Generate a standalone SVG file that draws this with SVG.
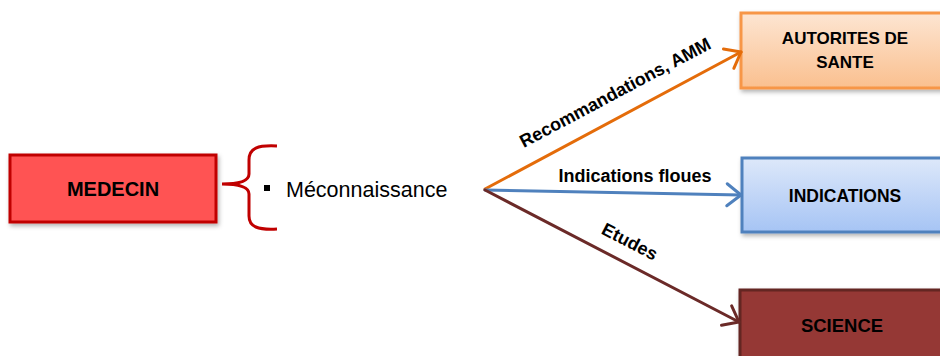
<svg xmlns="http://www.w3.org/2000/svg" width="940" height="356" viewBox="0 0 940 356">
  <defs>
    <style>
      .node-text { font-family: "Liberation Sans", Arial, sans-serif; font-weight: bold; fill: #000; text-anchor: middle; }
      .edge-text { font-family: "Liberation Sans", Arial, sans-serif; font-weight: bold; font-size: 18px; fill: #000; text-anchor: middle; }
      .plain-text { font-family: "Liberation Sans", Arial, sans-serif; font-size: 21.5px; fill: #000; }
      .edge { fill: none; stroke-width: 3; stroke-linecap: round; }
    </style>
    <linearGradient id="gradOrange" x1="0" y1="0" x2="0" y2="1">
      <stop offset="0" stop-color="#FDE5D2"/>
      <stop offset="1" stop-color="#FAC08F"/>
    </linearGradient>
    <linearGradient id="gradBlue" x1="0" y1="0" x2="0" y2="1">
      <stop offset="0" stop-color="#DDE8FA"/>
      <stop offset="1" stop-color="#A6C4F4"/>
    </linearGradient>
    <filter id="shadow" x="-10%" y="-10%" width="130%" height="140%">
      <feDropShadow dx="1.5" dy="2.5" stdDeviation="2" flood-color="#000" flood-opacity="0.3"/>
    </filter>
    <marker id="arrowOrange" markerUnits="userSpaceOnUse" orient="auto" refX="0" refY="0" markerWidth="30" markerHeight="30" viewBox="-20 -15 25 30" overflow="visible">
      <path d="M -14 -11 L 0 0 L -14 11" fill="none" stroke="#E46C0A" stroke-width="3" stroke-linecap="round" stroke-linejoin="round"/>
    </marker>
    <marker id="arrowBlue" markerUnits="userSpaceOnUse" orient="auto" refX="0" refY="0" markerWidth="30" markerHeight="30" viewBox="-20 -15 25 30" overflow="visible">
      <path d="M -14 -11 L 0 0 L -14 11" fill="none" stroke="#4F81BD" stroke-width="3" stroke-linecap="round" stroke-linejoin="round"/>
    </marker>
    <marker id="arrowBrown" markerUnits="userSpaceOnUse" orient="auto" refX="0" refY="0" markerWidth="30" markerHeight="30" viewBox="-20 -15 25 30" overflow="visible">
      <path d="M -14 -11 L 0 0 L -14 11" fill="none" stroke="#6B2A28" stroke-width="3" stroke-linecap="round" stroke-linejoin="round"/>
    </marker>
  </defs>

  <rect width="940" height="356" fill="#FFFFFF"/>

  <!-- left node -->
  <g id="medecin">
    <rect x="10" y="155" width="206" height="67" fill="#FF5252" stroke="#C00000" stroke-width="3" filter="url(#shadow)"/>
    <text class="node-text" x="113" y="196" font-size="20">MEDECIN</text>
  </g>

  <!-- brace with bullet item -->
  <g id="meconnaissance">
    <path d="M 277 146 C 258 145 249 148 249 160 L 249 174 C 249 181 240 184 222 184 C 240 184 249 187 249 194 L 249 216 C 249 227 258 230 277 229" fill="none" stroke="#C00000" stroke-width="3"/>
    <rect x="264" y="185" width="6" height="6" fill="#000"/>
    <text class="plain-text" x="286" y="197">Méconnaissance</text>
  </g>

  <!-- right nodes -->
  <g id="autorites">
    <rect x="741" y="13" width="210" height="75" fill="url(#gradOrange)" stroke="#F79646" stroke-width="3" filter="url(#shadow)"/>
    <text class="node-text" x="845" y="44" font-size="17">AUTORITES DE</text>
    <text class="node-text" x="845" y="68" font-size="17">SANTE</text>
  </g>

  <g id="indications">
    <rect x="742" y="158" width="210" height="74" fill="url(#gradBlue)" stroke="#4F81BD" stroke-width="3" filter="url(#shadow)"/>
    <text class="node-text" x="845" y="202" font-size="17.5">INDICATIONS</text>
  </g>

  <g id="science">
    <rect x="740" y="290" width="210" height="75" fill="#953735" stroke="#632523" stroke-width="3" filter="url(#shadow)"/>
    <text class="node-text" x="842" y="332" font-size="18.5">SCIENCE</text>
  </g>

  <!-- connectors -->
  <g id="connectors">
    <line class="edge" x1="485" y1="189" x2="741" y2="52" stroke="#E46C0A" marker-end="url(#arrowOrange)"/>
    <line class="edge" x1="485" y1="190" x2="741" y2="195" stroke="#4F81BD" marker-end="url(#arrowBlue)"/>
    <line class="edge" x1="485" y1="190" x2="739" y2="322" stroke="#6B2A28" marker-end="url(#arrowBrown)"/>

    <text class="edge-text" transform="translate(618 98) rotate(-28)">Recommandations, AMM</text>
    <text class="edge-text" x="635" y="182">Indications floues</text>
    <text class="edge-text" transform="translate(627 247) rotate(27.4)">Etudes</text>
  </g>
</svg>
